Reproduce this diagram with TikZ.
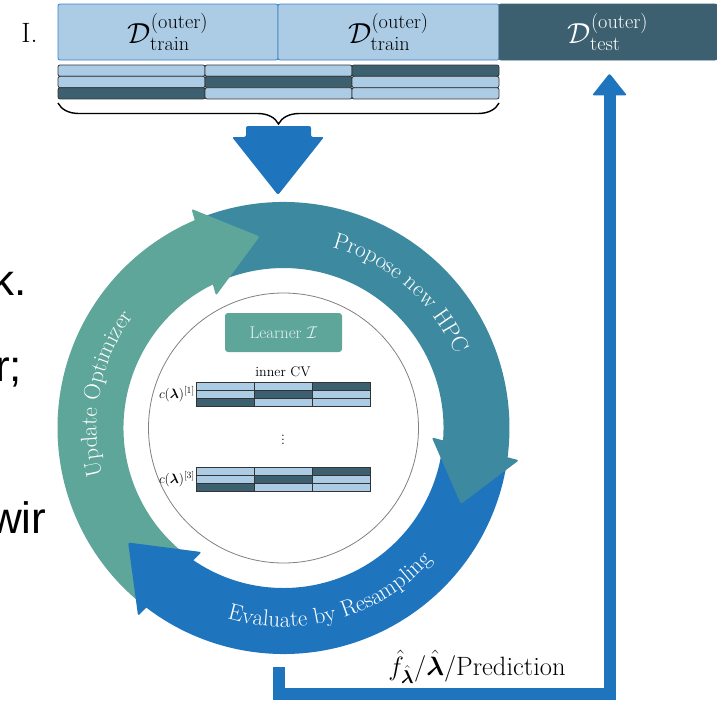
\RequirePackage{fix-cm}
\documentclass[tikz,border=0pt]{standalone}
\usepackage{amsmath}
\usepackage{fontspec}
\newfontfamily\slidefont{Liberation Sans}
\usetikzlibrary{calc,decorations.text,decorations.pathreplacing}

\definecolor{optgreen}{HTML}{5EA59A}
\definecolor{propteal}{HTML}{3D89A0}
\definecolor{evalblue}{HTML}{1E75BE}
\definecolor{folddark}{HTML}{3C6070}
\definecolor{foldlight}{HTML}{ACCCE6}
\definecolor{boxedge}{HTML}{3A82C6}
\definecolor{learnertext}{HTML}{E6F0EE}

% annular band of the cycle: colour, start angle, end angle
\newcommand{\ringpart}[3]{%
  \fill[#1] ($(C)+(#2:226)$) arc[start angle=#2,end angle=#3,radius=226]
     -- ($(C)+(#3:160)$) arc[start angle=#3,end angle=#2,radius=160] -- cycle;}
% arrow head of a band: colour, base angle, tip angle
\newcommand{\ringhead}[3]{%
  \path ($(C)+(#2:193)$) coordinate (hb) ($(C)+(#3:193)$) coordinate (ht);
  \fill[#1, rounded corners=2pt] ($(hb)!45pt!90:(ht)$) -- (ht) -- ($(hb)!45pt!-90:(ht)$) -- cycle;}
% a three-fold split: left x, top y, cell width, cell height, corner radius
\newcommand{\foldgrid}[5]{%
  \foreach \r in {0,1,2}{\foreach \c in {0,1,2}{%
    \pgfmathtruncatemacro{\s}{\r+\c}%
    \ifnum\s=2 \def\cellcol{folddark}\else\def\cellcol{foldlight}\fi
    \filldraw[fill=\cellcol, draw=black!80, line width=0.8pt, rounded corners=#5]
      ({#1+\c*#3},{-(#2+\r*#4)}) rectangle ++(#3,-#4);}}}

\begin{document}
\begin{tikzpicture}[x=1pt,y=1pt,
  outerfold/.style={draw=boxedge, line width=0.8pt, rounded corners=2pt, fill=foldlight,
    minimum height=56pt, inner sep=0pt, font=\fontsize{29}{34}\selectfont},
  bandtext/.style={decorate, decoration={text along path, text align=center,
    text color=white, text={|\fontsize{23}{27}\selectfont|#1}}},
  slidetext/.style={anchor=base west, font=\slidefont\fontsize{44}{50}\selectfont, inner sep=0pt}
]
\useasboundingbox (0,0) rectangle (717,-702);

% fragments of the surrounding slide text
\node[slidetext] (s1) at (-8,-295) {k.};
\node[slidetext] (s2) at (-5,-381) {r;};
\node[slidetext] (s3) at (-10,-533) {wir};

% outer split
\node[font=\fontsize{28}{33}\selectfont] (lbl) at (29.5,-33) {I.};
\node[outerfold, minimum width=220pt] (tr1) at (168,-32) {$\mathcal{D}^{(\mathrm{outer})}_{\mathrm{train}}$};
\node[outerfold, minimum width=221pt] (tr2) at (388.5,-32) {$\mathcal{D}^{(\mathrm{outer})}_{\mathrm{train}}$};
\node[outerfold, minimum width=218pt, fill=folddark, draw=folddark, text=white] (test) at (608,-32) {$\mathcal{D}^{(\mathrm{outer})}_{\mathrm{test}}$};

% folds of the outer training data
\foldgrid{58}{65}{147}{11.33}{2pt}
\draw[line width=1.4pt, decorate, decoration={brace, mirror, amplitude=21pt}] (58,-103) -- (499,-103);

% block arrow into the cycle
\fill[evalblue, rounded corners=2pt] (246,-126) -- (311,-126) -- (311,-137) -- (324,-137)
  -- (278,-195) -- (232,-137) -- (246,-137) -- cycle;

% the tuning cycle
\coordinate (C) at (283.5,-428);
\ringpart{propteal}{112.4}{-9.2}
\ringpart{evalblue}{-8.2}{-129.1}
\ringpart{optgreen}{231.9}{111.4}
\ringhead{optgreen}{114.4}{97.1}
\ringhead{propteal}{-6.2}{-23.2}
\ringhead{evalblue}{233.9}{216.4}

\path[bandtext=Propose new HPC] ($(C)+(99:187)$) arc[start angle=99,end angle=-1,radius=187];
\path[bandtext=Update Optimizer] ($(C)+(214:187)$) arc[start angle=214,end angle=124,radius=187];
\path[bandtext=Evaluate by Resampling] ($(C)+(236:199)$) arc[start angle=236,end angle=336,radius=199];

% inner loop
\node[circle, draw=black!50, line width=0.8pt, minimum size=270pt, inner sep=0pt] (inner) at (C) {};
\node[fill=optgreen, rounded corners=3pt, minimum width=117pt, minimum height=39pt, inner sep=0pt,
  text=learnertext, font=\fontsize{17}{20}\selectfont] (learner) at (283.5,-332.5) {Learner $\mathcal{I}$};
\node[font=\fontsize{14}{17}\selectfont] (icv) at (283,-372) {inner CV};
\foldgrid{196}{382}{58}{8}{0pt}
\foldgrid{196}{467}{58}{8}{0pt}
\node[anchor=east, inner sep=1pt, font=\fontsize{13.5}{16}\selectfont] (c1) at (196,-394) {$c(\boldsymbol{\lambda})^{[1]}$};
\node[anchor=east, inner sep=1pt, font=\fontsize{13.5}{16}\selectfont] (c3) at (196,-479) {$c(\boldsymbol{\lambda})^{[3]}$};
\node[font=\fontsize{14}{17}\selectfont] (dots) at (283,-437) {$\vdots$};

% result back to the outer test data
\coordinate (out) at (279,-667);
\coordinate (back) at ($(test.south)+(1.5,-13)$);
\coordinate (turn) at (back |- 0,-694);
\draw[evalblue, line width=12pt] (out) |- (turn) -- ($(back)+(0,-20)$);
\fill[evalblue, rounded corners=2pt] (back) -- ($(back)+(17.5,-22)$) -- ($(back)+(-17.5,-22)$) -- cycle;
\node[anchor=base, font=\fontsize{26.5}{31}\selectfont] (res) at (477,-675)
  {$\hat{f}_{\hat{\boldsymbol{\lambda}}}/\hat{\boldsymbol{\lambda}}/$Prediction};
\end{tikzpicture}
\end{document}
